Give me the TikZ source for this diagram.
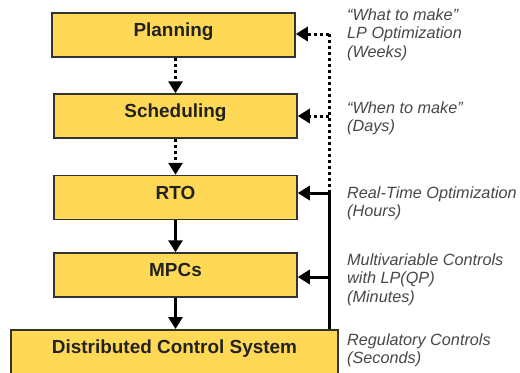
\documentclass[tikz,border=0pt]{standalone}
\usepackage{fontspec}
\setmainfont{Liberation Sans}
\usetikzlibrary{arrows.meta}
\definecolor{boxfill}{HTML}{FFD955}
\definecolor{boxline}{HTML}{333333}
\definecolor{textdark}{HTML}{222222}
\definecolor{notegray}{HTML}{474747}
\tikzset{
  stagebox/.style={draw=boxline, line width=1.5bp, fill=boxfill, minimum width=243bp,
    minimum height=44bp, inner sep=0pt, text=textdark, text height=13.5bp, text depth=10bp,
    font=\bfseries\fontsize{19}{21}\selectfont},
  note/.style={anchor=base west, align=left, text=notegray, inner sep=0pt,
    font=\itshape\fontsize{16.3}{18.7}\selectfont},
  flow/.style={line width=3bp, -{Triangle[length=12bp,width=14bp]}, black},
  dotflow/.style={flow, dash pattern=on 3bp off 3bp},
  busline/.style={line width=3bp, black},
  dotbus/.style={busline, dash pattern=on 3bp off 3bp},
}
\begin{document}
\begin{tikzpicture}[x=1bp,y=-1bp]
\useasboundingbox (0,0) rectangle (520,372);
\node[stagebox] (planning) at (173.5,35) {Planning};
\node[stagebox] (scheduling) at (175.5,116) {Scheduling};
\node[stagebox] (rto) at (175.5,197.5) {RTO};
\node[stagebox] (mpcs) at (175.5,275) {MPCs};
\node[stagebox, minimum width=327bp, minimum height=0pt, anchor=north,
      text height=13.5bp, text depth=25bp, inner ysep=10.5bp] (dcs) at (174.5,329) {Distributed Control System};

\coordinate (bt) at (329,34);
\coordinate (bs) at (329,116);
\coordinate (br) at (329,193);
\coordinate (bm) at (329,277);
\coordinate (bb) at (dcs.north -| bt);

\draw[dotbus] (bt) -- (br);
\draw[busline] (br) -- (bb);
\draw[dotflow] (bt) -- (planning.east |- bt);
\draw[dotflow] (bs) -- (scheduling.east |- bs);
\draw[flow] (br) -- (rto.east |- br);
\draw[flow] (bm) -- (mpcs.east |- bm);

\draw[dotflow] (planning.south -| scheduling.north) -- (scheduling.north);
\draw[dotflow] (scheduling.south) -- (rto.north);
\draw[flow] (rto.south) -- (mpcs.north);
\draw[flow] (mpcs.south) -- (mpcs.south |- dcs.north);

\node[note] (n1) at (347,57.4) {“What to make”\\LP Optimization\\(Weeks)};
\node[note] (n2) at (347,131.7) {“When to make”\\(Days)};
\node[note] (n3) at (347,216.7) {Real-Time Optimization\\(Hours)};
\node[note] (n4) at (347,302.4) {Multivariable Controls\\with LP(QP)\\(Minutes)};
\node[note] (n5) at (347,363.7) {Regulatory Controls\\(Seconds)};
\end{tikzpicture}
\end{document}
